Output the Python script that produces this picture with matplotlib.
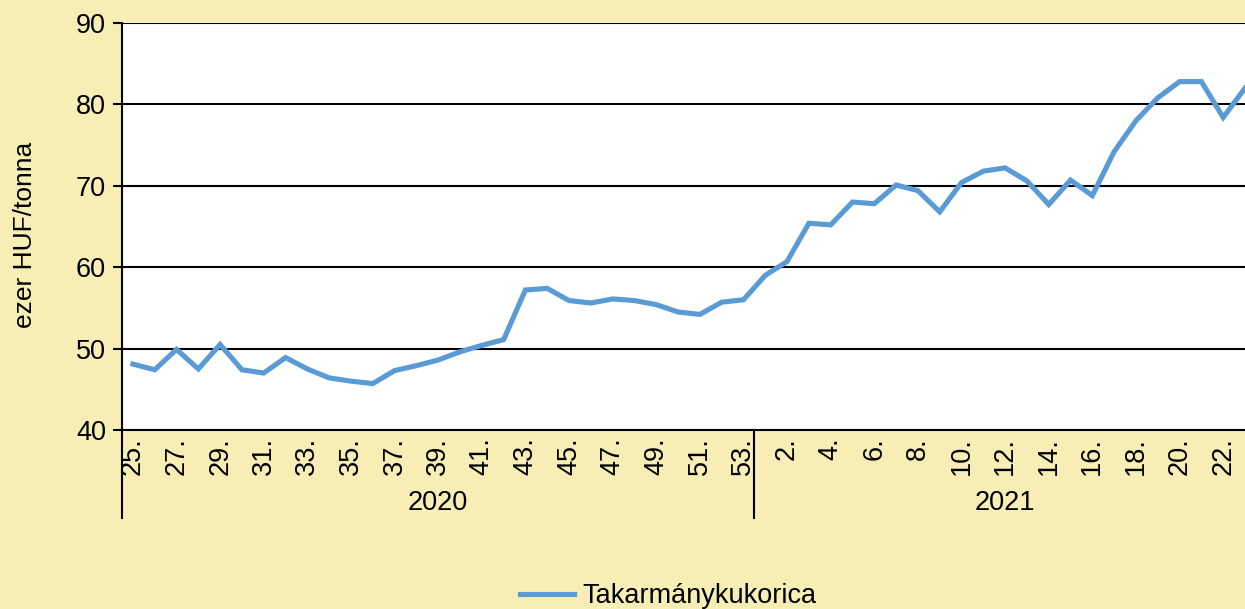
import matplotlib.pyplot as plt
import matplotlib.transforms as mtransforms
import numpy as np

plt.rcParams['font.family'] = ['Liberation Sans', 'DejaVu Sans']

# --- adatok ---
weeks_2020 = list(range(25, 54))
weeks_2021 = list(range(1, 24))
prices = [48.1, 47.4, 49.9, 47.5, 50.5, 47.4, 47.0, 48.9, 47.5, 46.4,
          46.0, 45.7, 47.3, 47.9, 48.6, 49.6, 50.4, 51.1, 57.2, 57.4,
          55.9, 55.6, 56.1, 55.9, 55.4, 54.5, 54.2, 55.7, 56.0,
          59.0, 60.7, 65.4, 65.2, 68.0, 67.8, 70.1, 69.4, 66.8, 70.4,
          71.8, 72.2, 70.6, 67.7, 70.7, 68.8, 74.2, 78.0, 80.8, 82.8,
          82.8, 78.4, 82.0]
years = ['2020', '2021']
series_name = 'Takarmánykukorica'
y_ticks = [40, 50, 60, 70, 80, 90]

bg = '#F6EEB4'
line_color = '#5B9BD5'

week_labels = [f'{w}.' for w in weeks_2020 + weeks_2021]
x = np.arange(len(prices))

fig = plt.figure(figsize=(12.45, 6.09), dpi=100, facecolor=bg)
ax = fig.add_axes([122 / 1245, 1 - 430 / 609, 1 - 122 / 1245, 407 / 609])
ax.set_facecolor('white')

ax.plot(x, prices, color=line_color, lw=3.7, solid_joinstyle='miter',
        label=series_name, zorder=3)

ax.set_ylim(40, 90)
ax.set_yticks(y_ticks)
ax.set_xlim(-0.5, len(prices) - 1)
for yv in y_ticks[1:]:
    ax.axhline(yv, color='black', lw=1.5, zorder=1)

ax.spines['top'].set_visible(False)
ax.spines['right'].set_visible(False)
ax.spines['left'].set_linewidth(1.5)
ax.spines['bottom'].set_linewidth(1.5)
ax.tick_params(axis='y', length=6.5, width=1.5, pad=5, labelsize=19.5)

ax.set_xticks(x[::2])
ax.set_xticklabels(week_labels[::2], rotation=90, fontsize=19.5)
ax.tick_params(axis='x', length=0, pad=5)

ax.set_ylabel('ezer HUF/tonna', fontsize=19)
ax.yaxis.set_label_coords(-0.076, 0.48)

# év-csoportok
trans = mtransforms.blended_transform_factory(ax.transData, ax.transAxes)
n20 = len(weeks_2020)
for xb in [-0.5, n20 - 0.5]:
    ax.plot([xb, xb], [0, -0.216], transform=trans, color='black', lw=1.5,
            clip_on=False)
ax.text((n20 - 1) / 2, -0.18, years[0], transform=trans, ha='center',
        va='center', fontsize=19.5)
ax.text(n20 + (len(weeks_2021) - 1) / 2, -0.18, years[1], transform=trans,
        ha='center', va='center', fontsize=19.5)

fig.legend(loc='center', bbox_to_anchor=(668 / 1245, 1 - 596 / 609),
           frameon=False, fontsize=19.5, handlelength=2.0, handletextpad=0.3)

fig.savefig('out.png', dpi=100, facecolor=bg)
